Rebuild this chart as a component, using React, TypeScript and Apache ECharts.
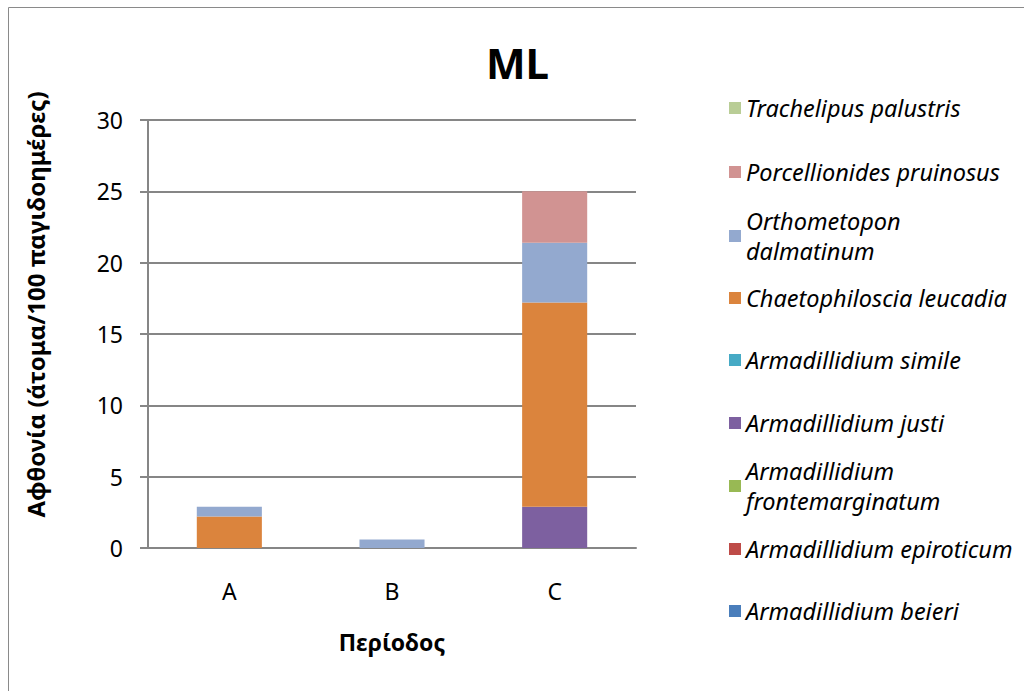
import React, { useEffect, useRef } from "react";
import * as echarts from "echarts";

const categories = ["A", "B", "C"];
const seriesNames = [
  "Armadillidium beieri",
  "Armadillidium epiroticum",
  "Armadillidium frontemarginatum",
  "Armadillidium justi",
  "Armadillidium simile",
  "Chaetophiloscia leucadia",
  "Orthometopon dalmatinum",
  "Porcellionides pruinosus",
  "Trachelipus palustris",
];
const beieri = [0, 0, 0];
const epiroticum = [0, 0, 0];
const frontemarginatum = [0, 0, 0];
const justi = [0, 0, 2.9];
const simile = [0, 0, 0];
const chaetophiloscia = [2.2, 0, 14.3];
const orthometopon = [0.7, 0.6, 4.2];
const porcellionides = [0, 0, 3.6];
const trachelipus = [0, 0, 0];
const seriesValues = [
  beieri,
  epiroticum,
  frontemarginatum,
  justi,
  simile,
  chaetophiloscia,
  orthometopon,
  porcellionides,
  trachelipus,
];
const colors = [
  "#4A7EBB",
  "#BE4B48",
  "#98B954",
  "#7D60A0",
  "#46AAC5",
  "#DB843D",
  "#93A9CF",
  "#D19392",
  "#B9CD96",
];
const legendLabels = [
  "Armadillidium beieri",
  "Armadillidium epiroticum",
  "Armadillidium\nfrontemarginatum",
  "Armadillidium justi",
  "Armadillidium simile",
  "Chaetophiloscia leucadia",
  "Orthometopon\ndalmatinum",
  "Porcellionides pruinosus",
  "Trachelipus palustris",
];
const legendCenters = [611, 549, 486, 423, 360, 298, 236, 172, 108];

const FONT = "'Noto Sans', 'Open Sans', sans-serif";

export default function App() {
  const ref = useRef<HTMLDivElement>(null);
  useEffect(() => {
    if (!ref.current) return;
    const chart = echarts.init(ref.current, undefined, { renderer: "svg" });
    const LH = 30;
    const legends = seriesNames.map((name, i) => {
      const twoLine = legendLabels[i].includes("\n");
      return {
        show: true,
        orient: "vertical",
        left: 729,
        top: legendCenters[i] - (twoLine ? LH * 1.5 : LH / 2),
        padding: 0,
        itemWidth: 12,
        itemHeight: 12,
        icon: "rect",
        selectedMode: false,
        data: [name],
        formatter: () => legendLabels[i],
        textStyle: {
          fontFamily: FONT,
          fontStyle: "italic",
          fontSize: 23.5,
          color: "#000",
          lineHeight: LH,
          padding: twoLine ? [LH, 0, 0, 0] : 0,
        },
      };
    });
    chart.setOption({
      animation: false,
      color: colors,
      title: {
        text: "ML",
        left: 486,
        top: 41,
        padding: 0,
        textStyle: { fontFamily: FONT, fontWeight: "bold", fontSize: 42, color: "#000" },
      },
      legend: legends,
      graphic: [
        {
          type: "rect",
          shape: { x: 8.5, y: 7.5, width: 1100, height: 800 },
          style: { fill: "none", stroke: "#8a8a8a", lineWidth: 1 },
          silent: true,
        },
      ],
      grid: { left: 148, top: 120, right: 388, bottom: 143 },
      xAxis: {
        type: "category",
        data: categories,
        name: "Περίοδος",
        nameLocation: "middle",
        nameGap: 82,
        nameTextStyle: { fontFamily: FONT, fontWeight: "bold", fontSize: 23, color: "#000" },
        axisLine: { lineStyle: { color: "#868686", width: 2 } },
        axisTick: { show: false },
        axisLabel: { fontFamily: FONT, fontSize: 23, color: "#000", margin: 31 },
      },
      yAxis: {
        type: "value",
        min: 0,
        max: 30,
        interval: 5,
        name: "Αφθονία (άτομα/100 παγιδοημέρες)",
        nameLocation: "middle",
        nameGap: 101,
        nameTextStyle: {
          fontFamily: FONT,
          fontWeight: "bold",
          fontSize: 24,
          color: "#000",
          padding: [0, 0, 0, 59],
        },
        axisLine: { show: true, lineStyle: { color: "#868686", width: 2 } },
        axisTick: { show: true, length: 8, lineStyle: { color: "#868686", width: 2 } },
        axisLabel: { fontFamily: FONT, fontSize: 23, color: "#000", margin: 25 },
        splitLine: { lineStyle: { color: "#868686", width: 2 } },
      },
      series: seriesNames.map((name, i) => ({
        name,
        type: "bar",
        stack: "total",
        barWidth: "40%",
        data: seriesValues[i],
        itemStyle: { color: colors[i] },
      })),
    });
    return () => chart.dispose();
  }, []);
  return (
    <div
      ref={ref}
      style={{ position: "absolute", left: 0, top: 0, width: 1024, height: 691, background: "#fff" }}
    />
  );
}
